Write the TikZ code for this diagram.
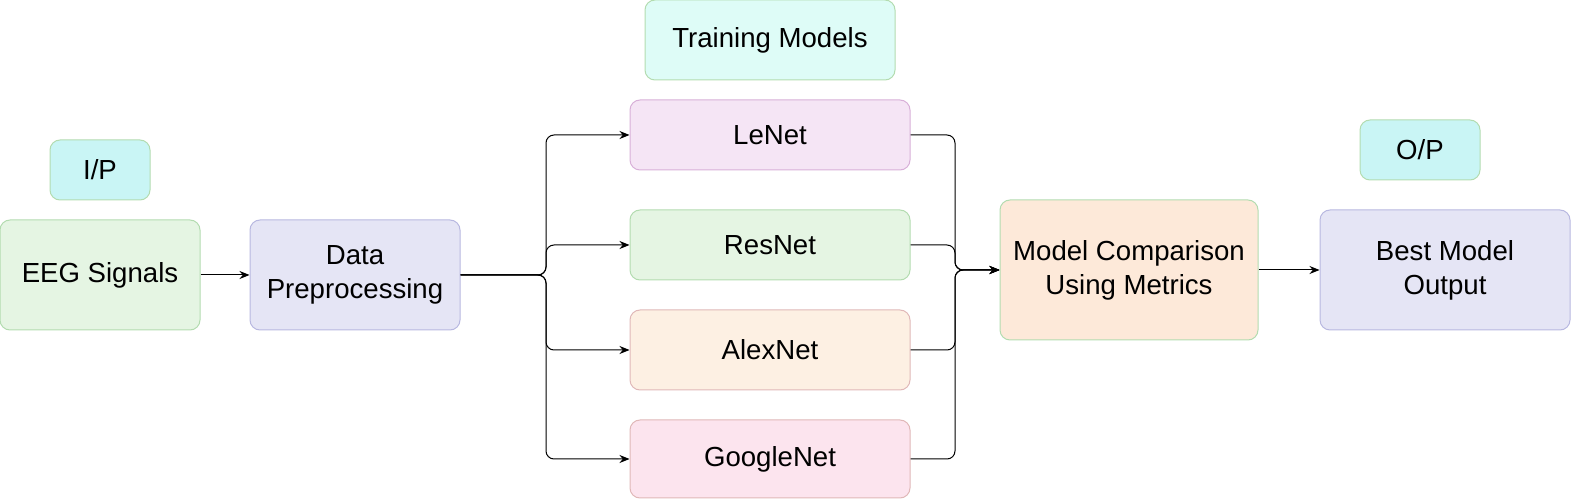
\documentclass[tikz,border=0pt]{standalone}
\usepackage{fontspec}
\setmainfont{Liberation Sans}
\usepackage{tikz}
\usetikzlibrary{arrows.meta, positioning, calc}
\definecolor{TagFill}{RGB}{201, 245, 245}
\definecolor{TagSoft}{RGB}{222, 252, 247}
\definecolor{GreenFill}{RGB}{229, 245, 227}
\definecolor{GreenLine}{RGB}{179, 220, 176}
\definecolor{LilacFill}{RGB}{229, 229, 245}
\definecolor{LilacLine}{RGB}{184, 184, 224}
\definecolor{PinkFill}{RGB}{245, 229, 245}
\definecolor{PinkLine}{RGB}{216, 176, 216}
\definecolor{PeachFill}{RGB}{253, 240, 227}
\definecolor{RoseLine}{RGB}{224, 184, 184}
\definecolor{RoseFill}{RGB}{252, 228, 238}
\definecolor{OrangeFill}{RGB}{253, 233, 217}

\begin{document}
\begin{tikzpicture}[
            x=0.5pt, y=-0.5pt,
            box/.style={draw, rounded corners=5pt, line width=0.5pt, align=center,
                font=\fontsize{13.8}{17}\selectfont, inner sep=0pt},
            tag/.style={box, fill=TagFill, draw=GreenLine},
            link/.style={line width=0.5pt, rounded corners=4pt, -{Stealth[length=5pt, width=4pt]}}
        ]
        \useasboundingbox (0,0) rectangle (1571,502);

        % Labels
        \node[tag, minimum width=50pt, minimum height=30pt] (ip) at (100,170) {I/P};
        \node[tag, fill=TagSoft, minimum width=125pt, minimum height=40pt] (train) at (770,40) {Training Models};
        \node[tag, minimum width=60pt, minimum height=30pt] (op) at (1420,150) {O/P};

        % Pipeline
        \node[box, fill=GreenFill, draw=GreenLine, minimum width=100pt, minimum height=55pt] (eeg) at (100,275) {EEG Signals};
        \node[box, fill=LilacFill, draw=LilacLine, minimum width=105pt, minimum height=55pt] (prep) at (355,275) {Data\\Preprocessing};

        % Models
        \node[box, fill=PinkFill, draw=PinkLine, minimum width=140pt, minimum height=35pt] (lenet) at (770,135) {LeNet};
        \node[box, fill=GreenFill, draw=GreenLine, minimum width=140pt, minimum height=35pt] (resnet) at (770,245) {ResNet};
        \node[box, fill=PeachFill, draw=RoseLine, minimum width=140pt, minimum height=40pt] (alexnet) at (770,350) {AlexNet};
        \node[box, fill=RoseFill, draw=RoseLine, minimum width=140pt, minimum height=39pt] (googlenet) at (770,459) {GoogleNet};

        \node[box, fill=OrangeFill, draw=GreenLine, minimum width=129pt, minimum height=70pt] (cmp) at (1129,270) {Model Comparison\\Using Metrics};
        \node[box, fill=LilacFill, draw=LilacLine, minimum width=125pt, minimum height=60pt] (best) at (1445,270) {Best Model\\Output};

        \coordinate (split) at (546,275);
        \coordinate (merge) at (955,270);

        % Connectors
        \draw[link] (eeg) -- (prep);
        \foreach \m in {lenet, resnet, alexnet, googlenet} {
            \draw[link] (prep.east) -- (split) |- (\m.west);
            \draw[link] (\m.east) -| (merge) -- (cmp.west);
        }
        \draw[link] (cmp) -- (best);

        \end{tikzpicture}
\end{document}
